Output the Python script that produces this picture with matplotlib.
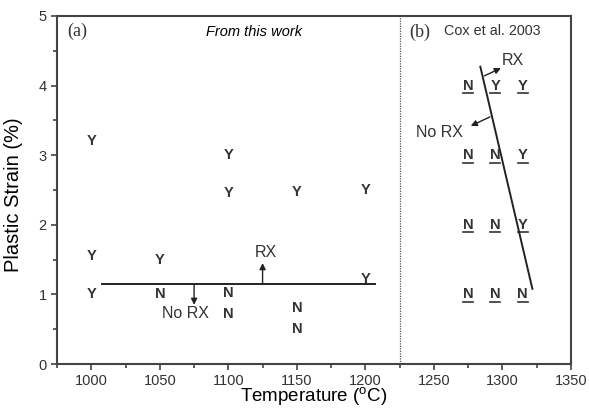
import matplotlib.pyplot as plt
from matplotlib.ticker import MultipleLocator

plt.rcParams['font.family'] = ['Liberation Sans', 'DejaVu Sans']
plt.rcParams['mathtext.fontset'] = 'custom'
plt.rcParams['mathtext.rm'] = 'Liberation Sans'

# (a) this work: temperature, strain, recrystallised (Y) or not (N)
a_temp = [1000, 1000, 1000, 1050, 1050, 1100, 1100, 1100, 1100, 1150, 1150, 1150, 1200, 1200]
a_strain = [3.2, 1.55, 1.0, 1.5, 1.0, 3.0, 2.45, 1.02, 0.72, 2.47, 0.8, 0.5, 2.5, 1.22]
a_rx = ['Y', 'Y', 'Y', 'Y', 'N', 'Y', 'Y', 'N', 'N', 'Y', 'N', 'N', 'Y', 'Y']

# (b) Cox et al. 2003
b_temp = [1275, 1295, 1315] * 4
b_strain = [4] * 3 + [3] * 3 + [2] * 3 + [1] * 3
b_rx = ['N', 'Y', 'Y', 'N', 'N', 'Y', 'N', 'N', 'Y', 'N', 'N', 'N']

# RX / no RX boundaries
a_bound_x = [1008, 1207]
a_bound_y = [1.15, 1.15]
b_bound_x = [1284, 1322]
b_bound_y = [4.27, 1.08]

dark = '#333333'

fig = plt.figure(figsize=(5.89, 4.09), dpi=100)
ax = fig.add_axes([0.097, 0.110, 0.872, 0.851])

for t, s, r in zip(a_temp, a_strain, a_rx):
    ax.text(t, s, r, ha='center', va='center', fontsize=10.5, fontweight='bold', color=dark)

# underlined letters for the literature data
for t, s, r in zip(b_temp, b_strain, b_rx):
    ax.text(t, s, r, ha='center', va='center', fontsize=10.5, fontweight='bold', color=dark)
    ax.plot([t - 3.6, t + 3.6], [s - 0.11, s - 0.11], color=dark, lw=1.2)

ax.plot(a_bound_x, a_bound_y, color='#222222', lw=1.4)
ax.plot(b_bound_x, b_bound_y, color='#222222', lw=1.4)

arrow = dict(arrowstyle='-|>', color='#222222', lw=1.0, mutation_scale=9,
             shrinkA=0, shrinkB=0)
ax.annotate('', xy=(1075, 0.85), xytext=(1075, 1.15), arrowprops=arrow)
ax.annotate('', xy=(1125, 1.45), xytext=(1125, 1.15), arrowprops=arrow)
ax.text(1069, 0.73, 'No RX', ha='center', va='center', fontsize=11.5, color=dark)
ax.text(1127, 1.6, 'RX', ha='center', va='center', fontsize=11.5, color=dark)

ax.annotate('', xy=(1299, 4.25), xytext=(1287, 4.14), arrowprops=arrow)
ax.annotate('', xy=(1277, 3.42), xytext=(1291, 3.55), arrowprops=arrow)
ax.text(1308, 4.36, 'RX', ha='center', va='center', fontsize=11.5, color=dark)
ax.text(1254, 3.33, 'No RX', ha='center', va='center', fontsize=11.5, color=dark)

ax.axvline(1225, color='#555555', lw=0.9, ls=(0, (1, 1)))

ax.text(0.04, 0.955, '(a)', transform=ax.transAxes, ha='center', va='center',
        fontsize=13, family='Liberation Serif', color=dark)
ax.text(1119, 4.77, 'From this work', ha='center', va='center', fontsize=10.5,
        style='italic', color='black')
ax.text(1240, 4.77, '(b)', ha='center', va='center', fontsize=13,
        family='Liberation Serif', color=dark)
ax.text(1293, 4.78, 'Cox et al. 2003', ha='center', va='center', fontsize=10.4,
        color=dark)

ax.set_xlim(975, 1350)
ax.set_ylim(0, 5)
ax.xaxis.set_major_locator(MultipleLocator(50))
ax.xaxis.set_minor_locator(MultipleLocator(25))
ax.yaxis.set_major_locator(MultipleLocator(1))
ax.yaxis.set_minor_locator(MultipleLocator(0.5))
ax.tick_params(which='both', direction='out', colors='#444444', labelcolor=dark,
               labelsize=10.5, width=1.2)
ax.tick_params(which='major', length=4)
ax.tick_params(which='minor', length=3)
ax.tick_params(axis='x', pad=3.5)
for sp in ax.spines.values():
    sp.set_color('#444444')
    sp.set_linewidth(1.5)

ax.set_xlabel(r'Temperature ($^{\rm o}$C)', fontsize=13.5)
ax.set_ylabel('Plastic Strain (%)', fontsize=14.5)
ax.xaxis.set_label_coords(0.5, -0.06)
ax.yaxis.set_label_coords(-0.066, 0.487)

fig.savefig('out.png', dpi=100)
